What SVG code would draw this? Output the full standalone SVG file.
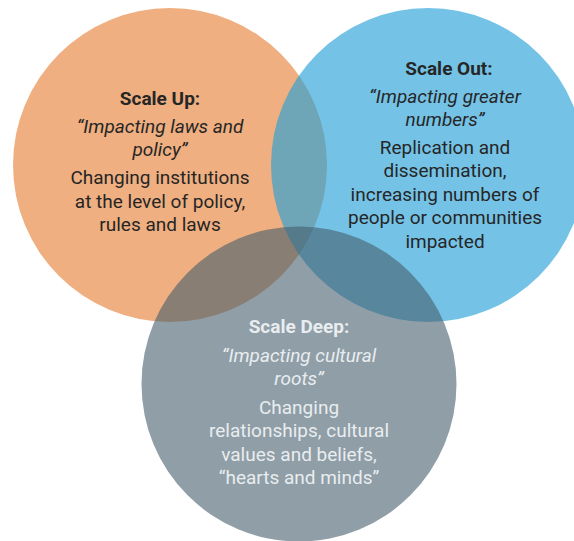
<svg xmlns="http://www.w3.org/2000/svg" width="574" height="541" viewBox="0 0 574 541">
<style>
text{font-family:Roboto,"Liberation Sans",sans-serif;font-size:19px;text-anchor:middle}
.h{font-weight:bold}
.i{font-style:italic}
.dk{fill:#262626}
.lt{fill:#E9EDEF}
</style>
<rect width="574" height="541" fill="#ffffff"/>
<g id="scale-up">
<circle cx="170" cy="165" r="157" fill="#EFAF80"/>
</g>
<g id="scale-out">
<circle cx="428" cy="165" r="157" fill="#209FD9" fill-opacity="0.625"/>
</g>
<g id="scale-deep">
<circle cx="299" cy="384" r="157.5" fill="#445D6C" fill-opacity="0.6"/>
</g>
<g id="scale-up-text" class="dk">
<text x="160" y="105" class="h">Scale Up:</text>
<text x="160" y="133" class="i">“Impacting laws and</text>
<text x="160" y="156" class="i">policy”</text>
<text x="160" y="184">Changing institutions</text>
<text x="160" y="207.5">at the level of policy,</text>
<text x="160" y="231">rules and laws</text>
</g>
<g id="scale-out-text" class="dk">
<text x="449" y="75" class="h">Scale Out:</text>
<text x="445" y="103" class="i">“Impacting greater</text>
<text x="445" y="126" class="i">numbers”</text>
<text x="445" y="153.5">Replication and</text>
<text x="445" y="177">dissemination,</text>
<text x="445" y="200.5">increasing numbers of</text>
<text x="445" y="224">people or communities</text>
<text x="445" y="247.5">impacted</text>
</g>
<g id="scale-deep-text" class="lt">
<text x="299" y="333" class="h">Scale Deep:</text>
<text x="299" y="362" class="i">“Impacting cultural</text>
<text x="299" y="385" class="i">roots”</text>
<text x="299" y="413.5">Changing</text>
<text x="299" y="437">relationships, cultural</text>
<text x="299" y="460.5">values and beliefs,</text>
<text x="299" y="484">“hearts and minds”</text>
</g>
</svg>
